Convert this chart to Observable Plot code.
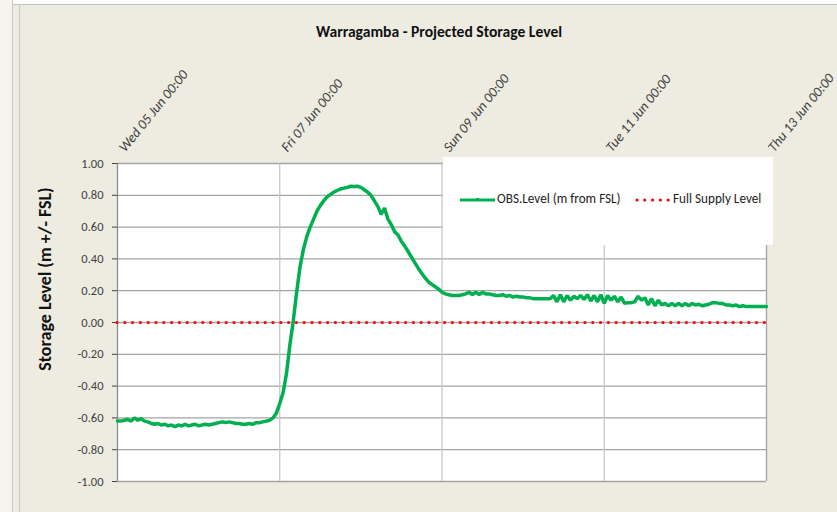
<!DOCTYPE html>
<html>
<head>
<meta charset="utf-8">
<script src="https://cdn.jsdelivr.net/npm/d3@7"></script>
<script src="https://cdn.jsdelivr.net/npm/@observablehq/plot@0.6"></script>
<style>
  html, body { margin: 0; padding: 0; background: #ffffff; }
  #wrap { position: relative; width: 837px; height: 512px; overflow: hidden; background: #EEECE1;
          font-family: Carlito, Lato, "Liberation Sans", sans-serif; }
  #chart { position: absolute; left: 0; top: 0; }
  #title { position: absolute; left: 0; width: 878px; top: 22px; text-align: center;
           font-weight: bold; font-size: 15.6px; color: #111; }
  #ylabel { position: absolute; left: 45px; top: 279px; width: 0; height: 0; }
  #ylabel span { position: absolute; left: 0; top: 0; transform: translate(-50%, -50%) rotate(-90deg);
                 white-space: nowrap; font-weight: bold; font-size: 18px; color: #111; }
  #legend { position: absolute; left: 443px; top: 157px; width: 330px; height: 88px; background: #fff;
            font-size: 13.2px; color: #222; }
  .lg { position: absolute; top: 33px; white-space: nowrap; }
  #chromeTop { position: absolute; left: 0; top: 0; width: 837px; height: 4px; background: #fff; border-bottom: 1px solid #c0c0c0; }
  #chromeLeft { position: absolute; left: 0; top: 0; width: 12px; height: 512px; background: #f4f3ee; border-right: 1px solid #c8c8c8; }
  #chromeLeft2 { position: absolute; left: 19px; top: 4px; width: 0; height: 508px; border-left: 1px solid #c8c8c8; }
</style>
</head>
<body>
<div id="wrap">
  <div id="chromeTop"></div>
  <div id="chromeLeft"></div>
  <div id="chromeLeft2"></div>
  <div id="chart"></div>
  <div id="title">Warragamba - Projected Storage Level</div>
  <div id="ylabel"><span>Storage Level (m +/- FSL)</span></div>
  <div id="legend">
    <svg style="position:absolute;left:17px;top:39px" width="36" height="8">
      <line x1="0" y1="4" x2="35" y2="4" stroke="#00B050" stroke-width="3"/>
      <rect x="16" y="2" width="3" height="3" fill="#00B050"/>
    </svg>
    <span class="lg" style="left:54px">OBS.Level (m from FSL)</span>
    <svg style="position:absolute;left:192px;top:39px" width="36" height="8">
      <line x1="2" y1="4" x2="34" y2="4" stroke="#FF0000" stroke-width="3.2" stroke-linecap="round" stroke-dasharray="0 7.8"/>
    </svg>
    <span class="lg" style="left:230px">Full Supply Level</span>
  </div>
</div>
<script>
// Hourly observed storage level (m from FSL), starting Wed 05 Jun 2013 00:00
const startTime = Date.UTC(2013, 5, 5, 0, 0);
const stepHours = 1;
const obsLevel = [
  -0.62, -0.62, -0.615, -0.61, -0.62, -0.60, -0.615, -0.605, -0.62, -0.625,
  -0.635, -0.64, -0.635, -0.645, -0.64, -0.65, -0.645, -0.655, -0.645, -0.65,
  -0.64, -0.65, -0.645, -0.64, -0.65, -0.645, -0.64, -0.645, -0.64, -0.635,
  -0.63, -0.625, -0.63, -0.625, -0.63, -0.635, -0.635, -0.64, -0.64, -0.635,
  -0.64, -0.63, -0.63, -0.625, -0.62, -0.615, -0.60, -0.57, -0.51, -0.44,
  -0.32, -0.14, 0.01, 0.19, 0.35, 0.46, 0.54, 0.60, 0.65, 0.70,
  0.735, 0.765, 0.79, 0.805, 0.82, 0.83, 0.84, 0.845, 0.85, 0.857,
  0.855, 0.857, 0.85, 0.835, 0.82, 0.80, 0.765, 0.73, 0.68, 0.72,
  0.65, 0.615, 0.57, 0.55, 0.51, 0.48, 0.445, 0.41, 0.375, 0.34,
  0.31, 0.28, 0.255, 0.24, 0.225, 0.21, 0.19, 0.18, 0.175, 0.17,
  0.17, 0.17, 0.175, 0.18, 0.19, 0.175, 0.19, 0.175, 0.19, 0.18,
  0.18, 0.175, 0.17, 0.17, 0.175, 0.165, 0.17, 0.16, 0.165, 0.16,
  0.16, 0.155, 0.155, 0.15, 0.15, 0.15, 0.15, 0.15, 0.15, 0.17,
  0.13, 0.175, 0.13, 0.17, 0.14, 0.165, 0.15, 0.17, 0.145, 0.175,
  0.135, 0.17, 0.13, 0.175, 0.12, 0.17, 0.14, 0.165, 0.13, 0.16,
  0.12, 0.125, 0.125, 0.13, 0.165, 0.14, 0.155, 0.11, 0.15, 0.105,
  0.14, 0.11, 0.12, 0.105, 0.12, 0.105, 0.12, 0.105, 0.12, 0.105,
  0.12, 0.11, 0.115, 0.105, 0.11, 0.115, 0.125, 0.125, 0.12, 0.12,
  0.11, 0.11, 0.105, 0.11, 0.10, 0.105, 0.10, 0.10, 0.10, 0.10,
  0.10, 0.10, 0.10
];
const fullSupplyLevel = [0.0];
const xTickLabels = ["Wed 05 Jun 00:00", "Fri 07 Jun 00:00", "Sun 09 Jun 00:00", "Tue 11 Jun 00:00", "Thu 13 Jun 00:00"];
const xTickDates = [Date.UTC(2013,5,5), Date.UTC(2013,5,7), Date.UTC(2013,5,9), Date.UTC(2013,5,11), Date.UTC(2013,5,13)].map(t => new Date(t));
const yTicks = [-1.0, -0.8, -0.6, -0.4, -0.2, 0.0, 0.2, 0.4, 0.6, 0.8, 1.0];

const data = obsLevel.map((v, i) => ({ t: new Date(startTime + i * stepHours * 3600e3), v }));
const ticks = xTickDates.map((d, i) => ({ d, label: xTickLabels[i] }));
const xDomain = [xTickDates[0], xTickDates[xTickDates.length - 1]];

const chart = Plot.plot({
  width: 837, height: 512,
  marginLeft: 117, marginRight: 71, marginTop: 163, marginBottom: 31,
  style: { background: "transparent", fontFamily: "Carlito, Lato, 'Liberation Sans', sans-serif", overflow: "visible" },
  x: { type: "utc", domain: xDomain, axis: null },
  y: { domain: [-1, 1], axis: null },
  marks: [
    Plot.frame({ fill: "white", stroke: null }),
    Plot.gridY(yTicks, { stroke: "#a4a4a4", strokeOpacity: 1, strokeWidth: 1.3 }),
    Plot.gridX(xTickDates.slice(1, -1), { stroke: "#c4c4c4", strokeOpacity: 1, strokeWidth: 1.2 }),
    Plot.ruleX([xDomain[1]], { stroke: "#a4a4a4", strokeWidth: 1.3 }),
    Plot.ruleX([xDomain[0]], { stroke: "#868686", strokeWidth: 1.2 }),
    Plot.axisY(yTicks, { label: null, tickSize: 5, tickPadding: 9, tickFormat: v => v.toFixed(2), fontSize: 12.5, color: "#404040" }),
    Plot.ruleY(fullSupplyLevel, { stroke: "#FF0000", strokeWidth: 3.2, strokeLinecap: "round", strokeDasharray: "0 7.8" }),
    Plot.line(data, { x: "t", y: "v", stroke: "#00B050", strokeWidth: 3.5, strokeLinejoin: "miter" }),
    Plot.text(ticks, { x: "d", text: "label", frameAnchor: "top", dy: -17, rotate: -51, textAnchor: "start",
                       fontStyle: "italic", fontSize: 14, fill: "#404040" })
  ]
});
document.getElementById("chart").appendChild(chart);
</script>
</body>
</html>
